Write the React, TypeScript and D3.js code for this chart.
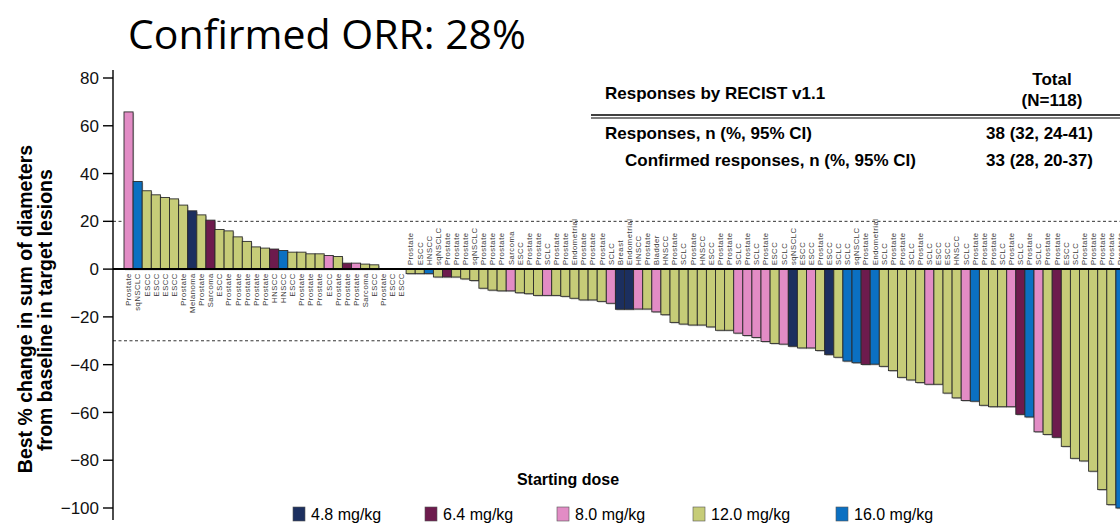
import React from "react";
import * as d3 from "d3";

// Tumour type per patient (ordered as in the waterfall)
const tumours: string[] = [
  "Prostate","sqNSCLC","ESCC","ESCC","ESCC","ESCC","Prostate","Melanoma","Prostate","Sarcoma",
  "ESCC","Prostate","Prostate","Prostate","Prostate","Prostate","HNSCC","HNSCC","ESCC","Prostate",
  "Prostate","Prostate","ESCC","Prostate","Prostate","Prostate","Sarcoma","ESCC","Prostate","ESCC",
  "ESCC","Prostate","ESCC","HNSCC","sqNSCLC","Prostate","Prostate","Prostate","sqNSCLC","Prostate",
  "Prostate","Prostate","Sarcoma","ESCC","Prostate","Prostate","SCLC","Prostate","Prostate","Endometrial",
  "Prostate","Prostate","Prostate","SCLC","Breast","Endometrial","HNSCC","Prostate","Bladder","HNSCC",
  "Prostate","SCLC","Prostate","HNSCC","ESCC","Prostate","Prostate","SCLC","Prostate","SCLC",
  "Prostate","ESCC","SCLC","sqNSCLC","ESCC","ESCC","Prostate","ESCC","SCLC","SCLC",
  "sqNSCLC","Prostate","Endometrial","SCLC","Prostate","Prostate","SCLC","Prostate","SCLC","ESCC",
  "ESCC","HNSCC","SCLC","Prostate","Prostate","Prostate","SCLC","Prostate","SCLC","Prostate",
  "SCLC","Prostate","Prostate","ESCC","SCLC","Prostate","Prostate","Prostate","Prostate","Prostate",
];

// Best % change from baseline
const changes: number[] = [
  65.8, 36.7, 32.8, 31.1, 30.0, 29.4, 26.8, 24.4, 22.7, 20.5,
  16.6, 16.0, 13.5, 11.6, 9.3, 8.8, 8.4, 7.8, 7.1, 7.1,
  6.4, 6.4, 5.7, 5.3, 2.5, 2.5, 2.1, 1.8, 0, 0,
  0, -1.9, -1.9, -1.9, -3.3, -3.3, -3.3, -4.1, -4.8, -8.0,
  -8.8, -9.1, -9.1, -9.9, -10.3, -11.0, -11.0, -11.0, -11.4, -12.2,
  -12.9, -12.9, -13.5, -14.3, -16.8, -16.8, -16.7, -16.7, -17.9, -19.1,
  -22.3, -23.0, -23.4, -23.4, -24.2, -25.6, -25.6, -26.8, -27.8, -28.6,
  -30.3, -31.1, -31.4, -32.3, -33.0, -33.0, -34.1, -35.8, -36.9, -38.5,
  -39.2, -39.9, -39.8, -40.7, -42.5, -45.3, -46.4, -47.5, -48.2, -48.2,
  -51.9, -53.9, -55.0, -55.3, -57.0, -57.6, -57.6, -57.6, -60.8, -61.9,
  -68.1, -69.2, -70.4, -74.2, -79.2, -80.3, -84.6, -92.3, -98.6, -100,
];

// Starting dose (mg/kg) per patient
const doses: number[] = [
  8.0, 16.0, 12.0, 12.0, 12.0, 12.0, 12.0, 4.8, 12.0, 6.4,
  12.0, 12.0, 12.0, 12.0, 12.0, 12.0, 6.4, 16.0, 12.0, 12.0,
  12.0, 12.0, 8.0, 12.0, 6.4, 8.0, 12.0, 12.0, 12.0, 12.0,
  12.0, 12.0, 12.0, 16.0, 12.0, 6.4, 12.0, 12.0, 12.0, 12.0,
  12.0, 12.0, 8.0, 12.0, 12.0, 12.0, 8.0, 12.0, 12.0, 12.0,
  12.0, 12.0, 12.0, 8.0, 4.8, 4.8, 8.0, 12.0, 8.0, 12.0,
  12.0, 12.0, 12.0, 12.0, 12.0, 12.0, 12.0, 8.0, 8.0, 8.0,
  8.0, 12.0, 8.0, 4.8, 12.0, 8.0, 12.0, 4.8, 12.0, 16.0,
  16.0, 6.4, 16.0, 12.0, 12.0, 12.0, 12.0, 12.0, 8.0, 12.0,
  12.0, 12.0, 8.0, 16.0, 12.0, 12.0, 12.0, 8.0, 6.4, 16.0,
  8.0, 12.0, 6.4, 12.0, 12.0, 12.0, 12.0, 12.0, 12.0, 16.0,
];

const doseLevels: number[] = [4.8, 6.4, 8.0, 12.0, 16.0];
const doseLabels: string[] = ["4.8 mg/kg", "6.4 mg/kg", "8.0 mg/kg", "12.0 mg/kg", "16.0 mg/kg"];
const doseColors: string[] = ["#1c2f5f", "#6d1b4d", "#e28cc5", "#c6cc78", "#0b70c2"];

const yTicks: number[] = [80, 60, 40, 20, 0, -20, -40, -60, -80, -100];
const refLines: number[] = [20, -30];

const tableHeader = "Responses by RECIST v1.1";
const tableCol = ["Total", "(N=118)"];
const tableRows: [string, string][] = [
  ["Responses, n (%, 95% CI)", "38 (32, 24-41)"],
  ["Confirmed responses, n (%, 95% CI)", "33 (28, 20-37)"],
];

const W = 1120;
const H = 524;
const AX = 113;

export default function App() {
  const x = d3
    .scaleBand<number>()
    .domain(d3.range(changes.length))
    .range([124, 124 + 9.1 * changes.length])
    .paddingInner(0);
  const y = d3.scaleLinear().domain([-100, 80]).range([508, 78]);
  const color = d3.scaleOrdinal<number, string>().domain(doseLevels).range(doseColors);
  const y0 = y(0);
  const bw = x.bandwidth();
  const legendX = [293, 425, 557, 693, 836];
  const font = "'Liberation Sans', Arial, sans-serif";
  const narrow = "'Liberation Sans Narrow', 'Arial Narrow', 'Liberation Sans', sans-serif";

  return (
    <svg
      width={W}
      height={H}
      style={{ position: "absolute", left: 0, top: 0, background: "#fff" }}
      fontFamily={font}
    >
      <rect width={W} height={H} fill="#fff" />
      <text x={128} y={49} fontFamily="'Open Sans', 'Noto Sans', sans-serif" fontSize={41} fill="#000">
        Confirmed ORR: 28%
      </text>

      {/* reference lines */}
      {refLines.map((v) => (
        <line key={v} x1={AX} x2={W} y1={y(v)} y2={y(v)} stroke="#333" strokeWidth={1} strokeDasharray="3,2.5" />
      ))}

      {/* bar shadows */}
      {changes.map((v, i) => {
        const top = Math.min(y(v), y0);
        const h = Math.abs(y(v) - y0);
        if (h < 0.5) return null;
        return <rect key={"s" + i} x={(x(i) as number) + 1} y={top + 1.2} width={bw} height={h} fill="#bdbdbd" />;
      })}
      {/* bars */}
      {changes.map((v, i) => {
        const top = Math.min(y(v), y0);
        const h = Math.abs(y(v) - y0);
        if (h < 0.5) return null;
        return (
          <rect
            key={"b" + i}
            x={x(i) as number}
            y={top}
            width={bw}
            height={h}
            fill={color(doses[i])}
            stroke="#2b2b2b"
            strokeWidth={0.9}
          />
        );
      })}

      {/* zero line */}
      <line x1={AX} x2={W} y1={y0} y2={y0} stroke="#000" strokeWidth={2} />

      {/* category labels */}
      {tumours.map((t, i) => {
        const cx = (x(i) as number) + bw / 2;
        const below = changes[i] >= 0;
        const ly = below ? y0 + 4 : y0 - 4;
        return (
          <text
            key={"l" + i}
            transform={`translate(${cx},${ly}) rotate(-90)`}
            textAnchor={below ? "end" : "start"}
            dy="0.36em"
            fontSize={7.6}
            letterSpacing={0.55}
            fill="#3a3a3a"
          >
            {t}
          </text>
        );
      })}

      {/* y axis */}
      <line x1={AX} x2={AX} y1={70} y2={520} stroke="#000" strokeWidth={1.4} />
      {yTicks.map((t) => (
        <g key={t} transform={`translate(0,${y(t)})`}>
          <line x1={103} x2={AX} stroke="#000" strokeWidth={1.4} />
          <text x={99} dy="0.36em" textAnchor="end" fontSize={17} fill="#111">
            {t < 0 ? "\u2212" + Math.abs(t) : t}
          </text>
        </g>
      ))}
      <text
        transform={`translate(25,309) rotate(-90)`}
        textAnchor="middle"
        dy="0.36em"
        fontSize={19.5}
        fontWeight="bold"
        fill="#000"
      >
        Best % change in sum of diameters
      </text>
      <text
        transform={`translate(45,310) rotate(-90)`}
        textAnchor="middle"
        dy="0.36em"
        fontSize={19.5}
        fontWeight="bold"
        fill="#000"
      >
        from baseline in target lesions
      </text>

      {/* table */}
      <text x={605} y={99} fontSize={17} fontWeight="bold" fill="#000">{tableHeader}</text>
      <text x={1052} y={85} textAnchor="middle" fontSize={17} fontWeight="bold" fill="#000">{tableCol[0]}</text>
      <text x={1052} y={106} textAnchor="middle" fontSize={17} fontWeight="bold" fill="#000">{tableCol[1]}</text>
      <line x1={591} x2={W} y1={115} y2={115} stroke="#000" strokeWidth={1.5} />
      <line x1={591} x2={W} y1={118} y2={118} stroke="#000" strokeWidth={1} />
      {tableRows.map((r, i) => (
        <g key={"r" + i}>
          <text x={i === 0 ? 605 : 625} y={139 + i * 27} fontSize={17} fontWeight="bold" fill="#000">{r[0]}</text>
          <text x={986} y={139 + i * 27} fontSize={17} fontWeight="bold" fill="#000">{r[1]}</text>
        </g>
      ))}

      {/* x title */}
      <text x={568} y={485} textAnchor="middle" fontFamily={narrow} fontSize={16} fontWeight="bold" fill="#000">
        Starting dose
      </text>

      {/* legend */}
      {doseLevels.map((d, i) => (
        <g key={"lg" + i}>
          <rect x={legendX[i]} y={507} width={12} height={14} fill={color(d)} stroke="#555" strokeWidth={0.6} />
          <text x={legendX[i] + 18} y={520} fontFamily={narrow} fontSize={16} fill="#000">
            {doseLabels[i]}
          </text>
        </g>
      ))}
    </svg>
  );
}
